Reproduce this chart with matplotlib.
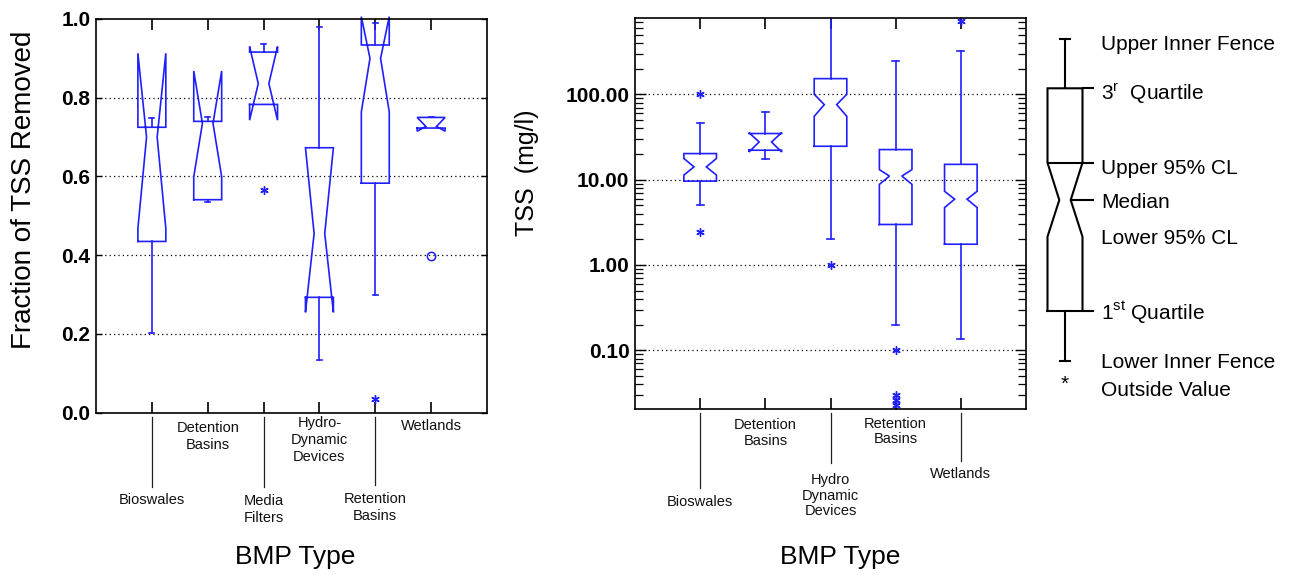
import matplotlib
matplotlib.use("Agg")
import matplotlib.pyplot as plt
import numpy as np
from matplotlib.transforms import blended_transform_factory
from matplotlib.ticker import FixedLocator, FormatStrFormatter, LogLocator, NullFormatter

plt.rcParams['font.family'] = ['Liberation Sans', 'DejaVu Sans']

# ---------------- data: left panel (fraction of TSS removed) ----------------
frac_categories = ['Bioswales', 'Detention\nBasins', 'Media\nFilters',
                   'Hydro-\nDynamic\nDevices', 'Retention\nBasins', 'Wetlands']
frac_q1 = [0.435, 0.541, 0.783, 0.293, 0.583, 0.723]
frac_q3 = [0.725, 0.740, 0.916, 0.673, 0.934, 0.750]
frac_med = [0.700, 0.735, 0.836, 0.455, 0.900, 0.727]
frac_cilo = [0.468, 0.599, 0.743, 0.255, 0.764, 0.715]
frac_cihi = [0.913, 0.868, 0.930, 0.673, 1.006, 0.750]
frac_whislo = [0.203, 0.534, 0.783, 0.135, 0.300, 0.723]
frac_whishi = [0.748, 0.751, 0.937, 0.980, 0.989, 0.752]
frac_outside_cat = [3, 5]
frac_outside_val = [0.565, 0.035]
frac_far_cat = [6]
frac_far_val = [0.397]

# ---------------- data: right panel (TSS mg/l) ----------------
tss_categories = ['Bioswales', 'Detention\nBasins', 'Hydro\nDynamic\nDevices',
                  'Retention\nBasins', 'Wetlands']
tss_q1 = [9.6, 22.1, 24.6, 2.98, 1.75]
tss_q3 = [20.2, 34.7, 152.6, 22.5, 15.1]
tss_med = [14.1, 27.6, 75.7, 11.0, 5.9]
tss_cilo = [11.3, 21.1, 55.2, 8.8, 4.7]
tss_cihi = [17.7, 35.5, 100.0, 13.1, 7.3]
tss_whislo = [5.0, 17.3, 2.0, 0.197, 0.135]
tss_whishi = [46.0, 62.0, 1000.0, 243.0, 321.0]
tss_outside_cat = [1, 1, 3, 4, 4, 4, 4, 5]
tss_outside_val = [102.0, 2.45, 1.0, 0.10, 0.030, 0.026, 0.023, 721.0]
tss_yticks = [0.1, 1, 10, 100]

BLUE = '#1f1fff'
W, H = 1295, 575

fig = plt.figure(figsize=(W / 100, H / 100), dpi=100)


def px_axes(l, t, r, b):
    return fig.add_axes([l / W, 1 - b / H, (r - l) / W, (b - t) / H])


def draw_box(ax, pos, q1, q3, med, cilo, cihi, lo, hi, width, capw, clip):
    l, r = pos - width / 2, pos + width / 2
    nl, nr = pos - width * 0.19, pos + width * 0.19
    xs = [l, r, r, nr, r, r, l, l, nl, l, l]
    ys = [q1, q1, cilo, med, cihi, q3, q3, cihi, med, cilo, q1]
    kw = dict(color=BLUE, lw=1.2, clip_on=clip, solid_joinstyle='miter')
    ax.plot(xs, ys, **kw)
    if hi != q3:
        ax.plot([pos, pos], [q3, hi], **kw)
        ax.plot([pos - capw / 2, pos + capw / 2], [hi, hi], **kw)
    if lo != q1:
        ax.plot([pos, pos], [q1, lo], **kw)
        ax.plot([pos - capw / 2, pos + capw / 2], [lo, lo], **kw)


def style_axes(ax, npos):
    for s in ax.spines.values():
        s.set_linewidth(1.2)
        s.set_color('black')
    ax.set_xticks(np.arange(1, npos + 1))
    ax.set_xticklabels([])
    ax.tick_params(axis='x', which='both', direction='in', top=True, bottom=True,
                   length=8, width=1.2)
    ax.tick_params(axis='y', which='both', direction='in', left=True, right=True,
                   width=1.0, labelsize=15, pad=4)
    for lab in ax.get_yticklabels():
        lab.set_fontweight('bold')


def cat_labels(ax, cats, centers_px, line_end_px, bottom_px, spacing):
    tr = blended_transform_factory(ax.transData, fig.transFigure)
    for i, (c, yc, le) in enumerate(zip(cats, centers_px, line_end_px)):
        pos = i + 1
        if le is not None:
            ax.plot([pos, pos], [1 - (bottom_px + 4) / H, 1 - le / H], transform=tr,
                    color='#222222', lw=0.9, clip_on=False)
        ax.text(pos, 1 - yc / H, c, transform=tr, ha='center', va='center',
                fontsize=10.5, linespacing=spacing, color='#111111')


# ---------------- left panel ----------------
axL = px_axes(96, 19, 487, 412.7)
for i in range(len(frac_categories)):
    draw_box(axL, i + 1, frac_q1[i], frac_q3[i], frac_med[i], frac_cilo[i], frac_cihi[i],
             frac_whislo[i], frac_whishi[i], 0.5, 0.09, False)
axL.plot(frac_outside_cat, frac_outside_val, linestyle='none', marker=(6, 2, 0),
         ms=6, mew=1.0, color=BLUE)
axL.plot(frac_far_cat, frac_far_val, linestyle='none', marker='o', ms=6, mfc='none',
         mew=1.1, color=BLUE)
axL.set_xlim(0, 7)
axL.set_ylim(0, 1.0)
axL.set_yticks(np.arange(0, 1.01, 0.2))
axL.yaxis.set_major_formatter(FormatStrFormatter('%.1f'))
for g in [0.2, 0.4, 0.6, 0.8]:
    axL.axhline(g, color='black', lw=0.9, linestyle=(0, (1, 2.5)), zorder=0)
style_axes(axL, 6)
axL.tick_params(axis='y', length=4)
cat_labels(axL, frac_categories, [500, 436.5, 509.5, 440, 507.5, 426],
           [487, None, 487, None, 485, None], 412.7, 1.3)
fig.text(24 / W, 1 - 190 / H, 'Fraction of TSS Removed', rotation=90, ha='center',
         va='center', fontsize=20)
fig.text(295 / W, 1 - 557 / H, 'BMP Type', ha='center', va='center', fontsize=19)

# ---------------- right panel ----------------
axR = px_axes(635, 17.7, 1026, 409)
axR.set_yscale('log')
for i in range(len(tss_categories)):
    draw_box(axR, i + 1, tss_q1[i], tss_q3[i], tss_med[i], tss_cilo[i], tss_cihi[i],
             tss_whislo[i], tss_whishi[i], 0.5, 0.11, True)
axR.plot(tss_outside_cat, tss_outside_val, linestyle='none', marker=(6, 2, 0),
         ms=6, mew=1.0, color=BLUE)
axR.set_xlim(0, 6)
axR.set_ylim(0.0205, 790)
axR.yaxis.set_major_locator(FixedLocator(tss_yticks))
axR.yaxis.set_major_formatter(FormatStrFormatter('%.2f'))
axR.yaxis.set_minor_locator(LogLocator(base=10, subs=np.arange(2, 10)))
axR.yaxis.set_minor_formatter(NullFormatter())
for g in tss_yticks:
    axR.axhline(g, color='black', lw=0.9, linestyle=(0, (1, 2.5)), zorder=0)
style_axes(axR, 5)
axR.tick_params(axis='y', which='major', length=8)
axR.tick_params(axis='y', which='minor', length=6, width=0.9)
cat_labels(axR, tss_categories, [502, 433, 495.7, 431.5, 474],
           [488, None, 463, None, 461], 409, 1.13)
fig.text(527 / W, 1 - 173 / H, 'TSS  (mg/l)', rotation=90, ha='center', va='center',
         fontsize=18)
fig.text(840 / W, 1 - 557 / H, 'BMP Type', ha='center', va='center', fontsize=19)

# ---------------- key (schematic) ----------------
axK = px_axes(1030, 0, 1295, 575)
axK.set_xlim(0, 265)
axK.set_ylim(575, 0)
axK.axis('off')
key = dict(fence_hi=39, q3=88.3, cihi=162.7, med=200, cilo=236.7, q1=311,
           fence_lo=360.7, outside=381)
cx, hw, nw, cw, tick_end, tx = 35, 17.5, 5.7, 5, 63, 71
kk = dict(color='black', lw=1.5, solid_joinstyle='miter')
axK.plot([cx - hw, cx - hw, cx - nw, cx - hw, cx - hw, cx + hw, cx + hw, cx + nw,
          cx + hw, cx + hw, cx - hw],
         [key['q1'], key['cilo'], key['med'], key['cihi'], key['q3'], key['q3'],
          key['cihi'], key['med'], key['cilo'], key['q1'], key['q1']], **kk)
axK.plot([cx + hw, tick_end], [key['q3']] * 2, **kk)
axK.plot([cx - hw, tick_end], [key['cihi']] * 2, **kk)
axK.plot([cx + nw, tick_end], [key['med']] * 2, **kk)
axK.plot([cx + hw, tick_end], [key['q1']] * 2, **kk)
axK.plot([cx, cx], [key['q3'], key['fence_hi']], **kk)
axK.plot([cx - cw, cx + cw], [key['fence_hi']] * 2, **kk)
axK.plot([cx, cx], [key['q1'], key['fence_lo']], **kk)
axK.plot([cx - cw, cx + cw], [key['fence_lo']] * 2, **kk)
axK.text(cx, key['outside'] + 3, '*', ha='center', va='center', fontsize=15)
key_labels = ['Upper Inner Fence', r'3$^{\mathregular{r}}$  Quartile', 'Upper 95% CL',
              'Median', 'Lower 95% CL', r'1$^{\mathregular{st}}$ Quartile',
              'Lower Inner Fence', 'Outside Value']
key_label_y = [44, 94, 168, 202, 238, 313, 363, 390]
for lab, y in zip(key_labels, key_label_y):
    axK.text(tx, y, lab, ha='left', va='center', fontsize=15)

fig.savefig('out.png', dpi=100)
